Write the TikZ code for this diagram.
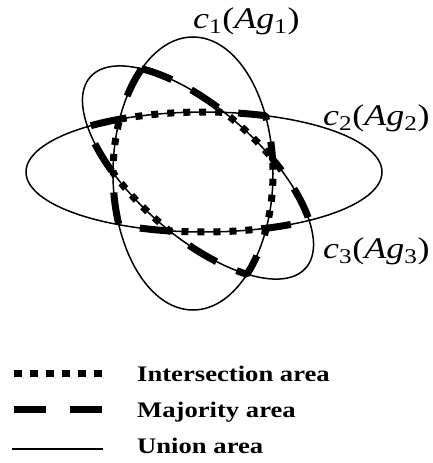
\documentclass[tikz,border=0pt]{standalone}
\usepackage{fontspec}
\setmainfont{Liberation Serif}
\usepackage{graphicx}
% arcs of the three ellipses (canvas axes, pt)
\newcommand{\ellarcA}[2]{\pgfpatharcaxes{#1}{#2}{\pgfpoint{80pt}{0pt}}{\pgfpoint{0pt}{-136.5pt}}}
\newcommand{\ellarcB}[2]{\pgfpatharcaxes{#1}{#2}{\pgfpoint{178pt}{0pt}}{\pgfpoint{0pt}{-60pt}}}
\newcommand{\ellarcC}[2]{\pgfpatharcaxes{#1}{#2}{\pgfpoint{107.71pt}{-95.61pt}}{\pgfpoint{-41.83pt}{-47.12pt}}}
\newcommand{\labtext}[1]{\scalebox{1.2}[1]{\textit{c}\textsubscript{#1}(\textit{Ag}\textsubscript{#1})}}
\begin{document}
\begin{tikzpicture}[x=1pt,y=-1pt,
  thinline/.style={line width=1.5pt},
  legdot/.style={line width=7pt, dash pattern=on 7.5pt off 8.5pt},
  legdash/.style={line width=7pt, dash pattern=on 31.7pt off 24.3pt},
  lab/.style={inner sep=0pt, anchor=base west, font=\fontsize{30}{36}\selectfont},
  legtext/.style={inner sep=0pt, anchor=base west, font=\fontsize{22.2}{26}\selectfont\bfseries}]
\useasboundingbox (0,0) rectangle (433,463);
% union: the three ellipses
\draw[thinline] (193,173.5) circle [x radius=80, y radius=136.5];
\draw[thinline] (204,172) circle [x radius=178, y radius=60];
\draw[thinline] (198,172.5) circle [x radius=144, y radius=63, rotate=-41.6];
% majority area boundary
\begin{pgfscope}
\pgfsetlinewidth{7pt}\pgfsetbuttcap\pgfsetbeveljoin
\pgfsetdash{{32pt}{22pt}}{0pt}
\pgfpathmoveto{\pgfpoint{141.67pt}{-68.79pt}}
\ellarcC{219.60}{261.91}
\ellarcB{276.54}{290.20}
\ellarcA{-25.06}{-6.09}
\ellarcC{288.95}{322.95}
\ellarcB{53.79}{69.52}
\ellarcA{23.63}{47.55}
\ellarcC{43.70}{83.03}
\ellarcB{101.16}{118.58}
\ellarcA{157.97}{180.34}
\ellarcC{116.13}{141.76}
\ellarcB{229.14}{241.71}
\ellarcA{203.46}{230.09}
\pgfusepath{stroke}
\end{pgfscope}
% intersection area boundary
\begin{pgfscope}
\pgfsetlinewidth{7pt}\pgfsetbuttcap\pgfsetbeveljoin
\pgfsetdash{{7pt}{9pt}}{0pt}
\pgfpathmoveto{\pgfpoint{119.64pt}{-119.17pt}}
\ellarcB{241.71}{276.54}
\ellarcC{261.91}{288.95}
\ellarcA{-6.09}{23.63}
\ellarcB{69.52}{101.16}
\ellarcC{83.03}{116.13}
\ellarcA{180.34}{203.46}
\pgfusepath{stroke}
\end{pgfscope}
% labels
\node[lab] (l1) at (193,28) {\labtext{1}};
\node[lab] (l2) at (323,125) {\labtext{2}};
\node[lab] (l3) at (323,258) {\labtext{3}};
% legend
\coordinate (d1) at (14,373); \coordinate (d2) at (102,373);
\draw[legdot] (d1) -- (d2);
\coordinate (m1) at (14,409.7); \coordinate (m2) at (102,409.7);
\draw[legdash] (m1) -- (m2);
\coordinate (u1) at (12.3,449); \coordinate (u2) at (103.3,449);
\draw[line width=1.7pt] (u1) -- (u2);
\node[legtext] (t1) at (137,381) {\scalebox{1.2}[1]{Intersection area}};
\node[legtext] (t2) at (137,417) {\scalebox{1.2}[1]{Majority area}};
\node[legtext] (t3) at (137,453.5) {\scalebox{1.2}[1]{Union area}};
\end{tikzpicture}
\end{document}
